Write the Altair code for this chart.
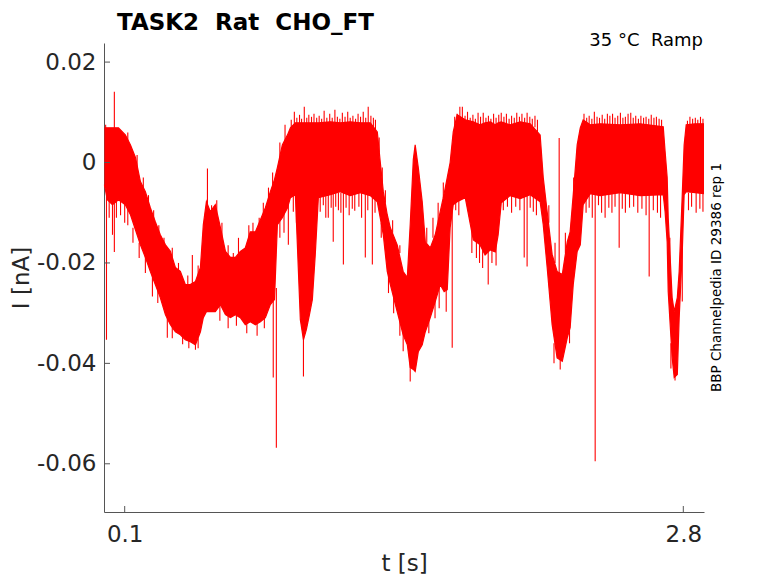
import altair as alt
import pandas as pd

# ---- envelope of the noisy current trace (time s, upper nA, lower nA) ----
T = [0.002, 0.016, 0.041, 0.070, 0.103, 0.128, 0.152, 0.176, 0.200, 0.224,
     0.248, 0.272, 0.297, 0.321, 0.345, 0.369, 0.393, 0.417, 0.442, 0.466,
     0.480, 0.495, 0.514, 0.538, 0.563, 0.587, 0.611, 0.635, 0.659, 0.683,
     0.707, 0.732, 0.756, 0.780, 0.804, 0.824, 0.838, 0.862, 0.887, 0.901,
     0.925, 0.949, 0.964, 0.978, 0.993, 1.007, 1.021, 1.036, 1.094, 1.142,
     1.190, 1.239, 1.287, 1.321, 1.335, 1.350, 1.369, 1.384, 1.417, 1.446,
     1.466, 1.480, 1.495, 1.504, 1.519, 1.538, 1.553, 1.577, 1.601, 1.625,
     1.644, 1.659, 1.673, 1.688, 1.707, 1.746, 1.785, 1.818, 1.842, 1.867,
     1.891, 1.905, 1.920, 1.963, 2.012, 2.060, 2.108, 2.123, 2.142, 2.166,
     2.190, 2.215, 2.239, 2.253, 2.268, 2.287, 2.302, 2.316, 2.350, 2.398,
     2.495, 2.592, 2.703, 2.712, 2.722, 2.727, 2.746, 2.756, 2.771, 2.780,
     2.795, 2.804, 2.814, 2.857, 2.900]
HI = [0.0069, 0.0069, 0.0069, 0.0069, 0.0055, 0.0035, 0.0010, -0.0038, -0.0058, -0.0090,
      -0.0118, -0.0144, -0.0164, -0.0177, -0.0209, -0.0217, -0.0243, -0.0243, -0.0237, -0.0209,
      -0.0124, -0.0078, -0.0098, -0.0084, -0.0130, -0.0177, -0.0189, -0.0189, -0.0177, -0.0170,
      -0.0138, -0.0138, -0.0114, -0.0090, -0.0058, -0.0034, -0.0010, 0.0035, 0.0055, 0.0069,
      0.0079, 0.0079, 0.0079, 0.0079, 0.0079, 0.0079, 0.0079, 0.0079, 0.0081, 0.0079,
      0.0081, 0.0079, 0.0079, 0.0061, 0.0002, -0.0058, -0.0104, -0.0130, -0.0164, -0.0217,
      -0.0229, -0.0124, 0.0006, 0.0035, -0.0010, -0.0078, -0.0158, -0.0170, -0.0144, -0.0098,
      -0.0062, -0.0030, 0.0000, 0.0061, 0.0095, 0.0085, 0.0081, 0.0075, 0.0079, 0.0081,
      0.0075, 0.0079, 0.0081, 0.0075, 0.0081, 0.0077, 0.0055, -0.0030, -0.0098, -0.0183,
      -0.0217, -0.0223, -0.0158, -0.0138, -0.0064, 0.0035, 0.0069, 0.0085, 0.0075, 0.0077,
      0.0075, 0.0077, 0.0071, 0.0022, -0.0030, -0.0110, -0.0269, -0.0297, -0.0269, -0.0217,
      -0.0064, 0.0035, 0.0075, 0.0077, 0.0077]
LO = [-0.0044, -0.0074, -0.0084, -0.0074, -0.0084, -0.0104, -0.0134, -0.0164, -0.0189, -0.0217,
      -0.0243, -0.0269, -0.0303, -0.0323, -0.0337, -0.0343, -0.0353, -0.0357, -0.0363, -0.0337,
      -0.0309, -0.0297, -0.0297, -0.0297, -0.0283, -0.0303, -0.0309, -0.0303, -0.0309, -0.0323,
      -0.0317, -0.0323, -0.0317, -0.0309, -0.0283, -0.0273, -0.0124, -0.0110, -0.0090, -0.0070,
      -0.0064, -0.0313, -0.0353, -0.0333, -0.0303, -0.0273, -0.0184, -0.0070, -0.0064, -0.0058,
      -0.0066, -0.0060, -0.0066, -0.0078, -0.0110, -0.0144, -0.0217, -0.0243, -0.0297, -0.0343,
      -0.0363, -0.0408, -0.0412, -0.0416, -0.0377, -0.0363, -0.0337, -0.0309, -0.0277, -0.0243,
      -0.0257, -0.0253, -0.0130, -0.0084, -0.0078, -0.0070, -0.0154, -0.0164, -0.0184, -0.0174,
      -0.0178, -0.0144, -0.0080, -0.0066, -0.0072, -0.0064, -0.0078, -0.0124, -0.0209, -0.0323,
      -0.0389, -0.0396, -0.0349, -0.0329, -0.0243, -0.0177, -0.0164, -0.0084, -0.0062, -0.0066,
      -0.0060, -0.0066, -0.0064, -0.0098, -0.0158, -0.0257, -0.0388, -0.0428, -0.0422, -0.0309,
      -0.0177, -0.0064, -0.0058, -0.0060, -0.0062]

# ---- noise spikes sticking out of the band: (time s, start nA, tip nA) ----
SPIKES_START = [  # first 0.12 s
    (0.008, 0.006, 0.0075), (0.050, 0.006, 0.0141), (0.012, -0.004, -0.0353),
    (0.025, -0.007, -0.0110), (0.041, -0.008, -0.0144), (0.050, -0.008, -0.0178),
    (0.060, -0.007, -0.0110), (0.080, -0.007, -0.0105), (0.100, -0.008, -0.0120),
    (0.115, -0.009, -0.0125), (0.115, 0.003, 0.0060)]
SPIKES_SLOPE1 = [  # descending slope and first trough
    (0.160, -0.002, 0.0015), (0.190, -0.006, -0.0030), (0.215, -0.010, -0.0065),
    (0.240, -0.013, -0.0095), (0.265, -0.016, -0.0125), (0.290, -0.018, -0.0150),
    (0.330, -0.021, -0.0170), (0.360, -0.023, -0.0200), (0.405, -0.026, -0.0225),
    (0.427, -0.025, -0.0184), (0.455, -0.024, -0.0205),
    (0.140, -0.013, -0.0160), (0.170, -0.016, -0.0190), (0.200, -0.018, -0.0220),
    (0.234, -0.021, -0.0267), (0.260, -0.024, -0.0280), (0.306, -0.030, -0.0349),
    (0.330, -0.032, -0.0350), (0.380, -0.034, -0.0362), (0.410, -0.035, -0.0370),
    (0.442, -0.035, -0.0373), (0.455, -0.035, -0.0370)]
SPIKES_MID = [  # second trough and rise
    (0.500, -0.009, -0.0012), (0.520, -0.011, -0.0085), (0.545, -0.010, -0.0075),
    (0.570, -0.015, -0.0120), (0.600, -0.020, -0.0165), (0.625, -0.020, -0.0180),
    (0.650, -0.019, -0.0150), (0.700, -0.016, -0.0125), (0.720, -0.016, -0.0120),
    (0.750, -0.013, -0.0110), (0.770, -0.011, -0.0080), (0.795, -0.008, -0.0050),
    (0.815, -0.005, -0.0020), (0.850, 0.000, 0.0040), (0.875, 0.003, 0.0075),
    (0.560, -0.027, -0.0315), (0.600, -0.028, -0.0330), (0.640, -0.029, -0.0325),
    (0.690, -0.030, -0.0340), (0.740, -0.030, -0.0345), (0.775, -0.029, -0.0330),
    (0.818, -0.027, -0.0428), (0.833, -0.025, -0.0568), (0.850, -0.010, -0.0150),
    (0.870, -0.009, -0.0140), (0.891, -0.008, -0.0164)]
SPIKES_PLATEAU1 = [
    (0.905, 0.007, 0.0085), (0.920, 0.007, 0.0101), (0.932, 0.007, 0.0089), (0.945, 0.007, 0.0095),
    (0.955, 0.007, 0.0087), (0.968, 0.007, 0.0111), (0.980, 0.007, 0.0089), (0.990, 0.007, 0.0095),
    (1.003, 0.007, 0.0091), (1.015, 0.007, 0.0097), (1.028, 0.007, 0.0089), (1.040, 0.007, 0.0093),
    (1.052, 0.007, 0.0087), (1.064, 0.007, 0.0103), (1.077, 0.007, 0.0089), (1.091, 0.007, 0.0097),
    (1.103, 0.007, 0.0089), (1.116, 0.007, 0.0105), (1.128, 0.007, 0.0091), (1.140, 0.007, 0.0087),
    (1.152, 0.007, 0.0099), (1.165, 0.007, 0.0091), (1.178, 0.007, 0.0101), (1.190, 0.007, 0.0089),
    (1.203, 0.007, 0.0093), (1.216, 0.007, 0.0087), (1.228, 0.007, 0.0097), (1.240, 0.007, 0.0091),
    (1.253, 0.007, 0.0101), (1.265, 0.007, 0.0089), (1.277, 0.007, 0.0111), (1.290, 0.007, 0.0093),
    (1.302, 0.007, 0.0089), (1.312, 0.006, 0.0085),
    (0.915, -0.006, -0.0098), (0.930, -0.006, -0.0120), (0.964, -0.030, -0.0426),
    (1.045, -0.006, -0.0098), (1.060, -0.006, -0.0085), (1.072, -0.006, -0.0110),
    (1.084, -0.006, -0.0110), (1.098, -0.006, -0.0090), (1.108, -0.006, -0.0158),
    (1.120, -0.006, -0.0088), (1.133, -0.006, -0.0095), (1.145, -0.006, -0.0100),
    (1.157, -0.006, -0.0203), (1.170, -0.006, -0.0090), (1.185, -0.006, -0.0105),
    (1.200, -0.006, -0.0092), (1.212, -0.006, -0.0096), (1.232, -0.006, -0.0088),
    (1.245, -0.006, -0.0110), (1.263, -0.006, -0.0189), (1.275, -0.006, -0.0095),
    (1.297, -0.006, -0.0203), (1.310, -0.006, -0.0100)]
SPIKES_DIP2 = [  # fall near 1.4 s and rise
    (1.330, 0.002, 0.0050), (1.345, -0.004, -0.0010), (1.360, -0.008, -0.0055),
    (1.395, -0.014, -0.0115), (1.430, -0.018, -0.0165), (1.560, -0.016, -0.0130),
    (1.590, -0.015, -0.0110), (1.615, -0.012, -0.0080), (1.640, -0.007, -0.0040),
    (1.340, -0.012, -0.0150), (1.375, -0.022, -0.0260), (1.400, -0.026, -0.0300),
    (1.430, -0.031, -0.0345), (1.446, -0.033, -0.0376), (1.480, -0.040, -0.0436),
    (1.570, -0.030, -0.0340), (1.600, -0.027, -0.0310), (1.620, -0.024, -0.0290),
    (1.654, -0.024, -0.0297), (1.683, -0.008, -0.0369)]
SPIKES_PLATEAU2 = [
    (1.695, 0.007, 0.0091), (1.707, 0.007, 0.0097), (1.720, 0.007, 0.0111), (1.732, 0.007, 0.0111),
    (1.745, 0.007, 0.0093), (1.757, 0.007, 0.0101), (1.770, 0.007, 0.0089), (1.783, 0.007, 0.0095),
    (1.795, 0.007, 0.0087), (1.808, 0.007, 0.0099), (1.820, 0.007, 0.0091), (1.833, 0.007, 0.0099),
    (1.846, 0.007, 0.0089), (1.858, 0.007, 0.0093), (1.870, 0.007, 0.0087), (1.883, 0.007, 0.0097),
    (1.895, 0.007, 0.0089), (1.908, 0.007, 0.0095), (1.920, 0.007, 0.0099), (1.933, 0.007, 0.0091),
    (1.945, 0.007, 0.0097), (1.958, 0.007, 0.0087), (1.970, 0.007, 0.0093), (1.983, 0.007, 0.0089),
    (1.995, 0.007, 0.0099), (2.008, 0.007, 0.0091), (2.020, 0.007, 0.0097), (2.033, 0.007, 0.0089),
    (2.045, 0.007, 0.0099), (2.058, 0.007, 0.0091), (2.070, 0.007, 0.0087), (2.083, 0.007, 0.0093),
    (2.095, 0.006, 0.0085),
    (1.700, -0.007, -0.0095), (1.715, -0.007, -0.0105), (1.760, -0.006, -0.0090),
    (1.778, -0.012, -0.0180), (1.800, -0.015, -0.0190), (1.815, -0.015, -0.0200),
    (1.830, -0.017, -0.0210), (1.857, -0.015, -0.0243), (1.875, -0.015, -0.0200),
    (1.895, -0.015, -0.0205), (1.930, -0.006, -0.0095), (1.950, -0.006, -0.0088),
    (1.970, -0.006, -0.0100), (1.990, -0.006, -0.0088), (2.010, -0.006, -0.0095),
    (2.031, -0.006, -0.0189), (2.045, -0.006, -0.0207), (2.060, -0.006, -0.0090),
    (2.075, -0.006, -0.0098), (2.090, -0.006, -0.0105)]
SPIKES_DIP3 = [
    (2.150, -0.012, -0.0085), (2.180, -0.020, -0.0160), (2.200, -0.022, 0.0049),
    (2.230, -0.018, -0.0140), (2.270, -0.007, -0.0030), (2.175, -0.036, -0.0400),
    (2.205, -0.038, -0.0412), (2.250, -0.032, -0.0360)]
SPIKES_PLATEAU3 = [
    (2.320, 0.007, 0.0097), (2.333, 0.007, 0.0089), (2.345, 0.007, 0.0093), (2.358, 0.007, 0.0087),
    (2.370, 0.007, 0.0101), (2.383, 0.007, 0.0091), (2.395, 0.007, 0.0089), (2.408, 0.007, 0.0095),
    (2.420, 0.007, 0.0087), (2.433, 0.007, 0.0097), (2.445, 0.007, 0.0093), (2.458, 0.007, 0.0097),
    (2.470, 0.007, 0.0089), (2.483, 0.007, 0.0093), (2.496, 0.007, 0.0099), (2.508, 0.007, 0.0089),
    (2.520, 0.007, 0.0091), (2.533, 0.007, 0.0097), (2.546, 0.007, 0.0099), (2.558, 0.007, 0.0089),
    (2.570, 0.007, 0.0093), (2.583, 0.007, 0.0087), (2.595, 0.007, 0.0093), (2.608, 0.007, 0.0089),
    (2.620, 0.007, 0.0091), (2.633, 0.007, 0.0087), (2.645, 0.007, 0.0095), (2.658, 0.007, 0.0089),
    (2.670, 0.007, 0.0091), (2.683, 0.007, 0.0087), (2.695, 0.006, 0.0085),
    (2.330, -0.006, -0.0100), (2.345, -0.006, -0.0090), (2.360, -0.006, -0.0110),
    (2.374, -0.006, -0.0595), (2.390, -0.006, -0.0085), (2.405, -0.006, -0.0100),
    (2.422, -0.006, -0.0110), (2.440, -0.006, -0.0090), (2.455, -0.006, -0.0100),
    (2.470, -0.006, -0.0088), (2.490, -0.006, -0.0170), (2.505, -0.006, -0.0092),
    (2.520, -0.006, -0.0100), (2.540, -0.006, -0.0090), (2.560, -0.006, -0.0088),
    (2.580, -0.006, -0.0100), (2.600, -0.006, -0.0092), (2.620, -0.006, -0.0105),
    (2.635, -0.006, -0.0227), (2.655, -0.006, -0.0095), (2.675, -0.006, -0.0100),
    (2.690, -0.006, -0.0110)]
SPIKES_END = [
    (2.735, -0.020, -0.0150), (2.740, -0.036, -0.0410), (2.760, -0.041, -0.0434),
    (2.795, -0.017, -0.0277), (2.820, 0.006, 0.0083), (2.832, 0.006, 0.0091),
    (2.845, 0.006, 0.0087), (2.858, 0.006, 0.0089), (2.870, 0.006, 0.0085),
    (2.883, 0.006, 0.0091), (2.895, 0.006, 0.0087), (2.825, -0.006, -0.0095),
    (2.840, -0.006, -0.0088), (2.862, -0.006, -0.0100), (2.880, -0.006, -0.0092),
    (2.895, -0.006, -0.0098)]

X_TICKS = [0.1, 2.8]
Y_TICKS = [0.02, 0, -0.02, -0.04, -0.06]
X_DOMAIN = [0, 2.9]
Y_DOMAIN = [-0.0696, 0.0238]

TITLE = "TASK2 \u00a0Rat \u00a0CHO_FT"
COND = "35 °C \u00a0Ramp"
SIDE = "BBP Channelpedia ID 29386 rep 1"

FONT = "DejaVu Sans"
RED = "#ff0000"
AX = "#555555"
TXT = "#262626"
W, H = 600, 469

xs = alt.Scale(domain=X_DOMAIN, nice=False, zero=False)
ys = alt.Scale(domain=Y_DOMAIN, nice=False, zero=False)
xaxis = alt.Axis(values=X_TICKS, format=".1f", title="t [s]", ticks=False, tickSize=0,
                 labelPadding=11, titlePadding=6, grid=False, domainColor=AX,
                 labelFontSize=23, titleFontSize=23, labelColor=TXT, titleColor=TXT,
                 labelFont=FONT, titleFont=FONT, titleFontWeight="normal")
yaxis = alt.Axis(values=Y_TICKS, title="I [nA]", ticks=False, tickSize=0,
                 labelExpr="datum.value == 0 ? '0' : replace(format(datum.value, '.2f'), '\u2212', '-')",
                 labelPadding=8, titlePadding=3, grid=False, domainColor=AX,
                 labelFontSize=23, titleFontSize=23, labelColor=TXT, titleColor=TXT,
                 labelFont=FONT, titleFont=FONT, titleFontWeight="normal")


def X():
    return alt.X("t:Q", scale=xs, axis=xaxis)


def Y():
    return alt.Y("v:Q", scale=ys, axis=yaxis)


spikes = (SPIKES_START + SPIKES_SLOPE1 + SPIKES_MID + SPIKES_PLATEAU1 + SPIKES_DIP2
          + SPIKES_PLATEAU2 + SPIKES_DIP3 + SPIKES_PLATEAU3 + SPIKES_END)
env = pd.DataFrame({"t": T, "v": LO, "v2": HI})
sp = pd.DataFrame(spikes, columns=["t", "v", "v2"])

band = alt.Chart(env).mark_area(color=RED, interpolate="linear", opacity=1).encode(
    x=X(), y=Y(), y2="v2:Q")
lo_line = alt.Chart(env).mark_line(color=RED, strokeWidth=1.2).encode(x=X(), y=Y())
hi_line = alt.Chart(env).mark_line(color=RED, strokeWidth=1.2).encode(
    x=X(), y=alt.Y("v2:Q", scale=ys, axis=yaxis))
spike_rules = alt.Chart(sp).mark_rule(color=RED, strokeWidth=1.1).encode(x=X(), y=Y(), y2="v2:Q")

xt = alt.Chart(pd.DataFrame({"t": X_TICKS})).mark_rule(color=AX, strokeWidth=1).encode(
    x=X(), y=alt.value(H), y2=alt.value(H - 6))
yt = alt.Chart(pd.DataFrame({"v": Y_TICKS})).mark_rule(color=AX, strokeWidth=1).encode(
    y=Y(), x=alt.value(0), x2=alt.value(6))

title_txt = alt.Chart(pd.DataFrame({"s": [TITLE]})).mark_text(
    font=FONT, fontSize=23, fontWeight="bold", color="#000000", align="left",
    baseline="alphabetic").encode(x=alt.value(13), y=alt.value(-13.5), text="s:N")
cond_txt = alt.Chart(pd.DataFrame({"s": [COND]})).mark_text(
    font=FONT, fontSize=18, color="#000000", align="right",
    baseline="alphabetic").encode(x=alt.value(599), y=alt.value(3), text="s:N")
side_txt = alt.Chart(pd.DataFrame({"s": [SIDE]})).mark_text(
    font=FONT, fontSize=13.5, color="#000000", align="center", angle=270,
    baseline="alphabetic").encode(x=alt.value(617), y=alt.value(H / 2), text="s:N")

chart = alt.layer(band, lo_line, hi_line, spike_rules, xt, yt,
                  title_txt, cond_txt, side_txt).properties(
    width=W, height=H,
    autosize=alt.AutoSizeParams(type="none"),
    padding={"left": 96, "top": 35, "right": 66, "bottom": 63},
    background="white",
).configure_view(stroke=None)

chart.save("out.html", embed_options={"renderer": "svg", "actions": False})
